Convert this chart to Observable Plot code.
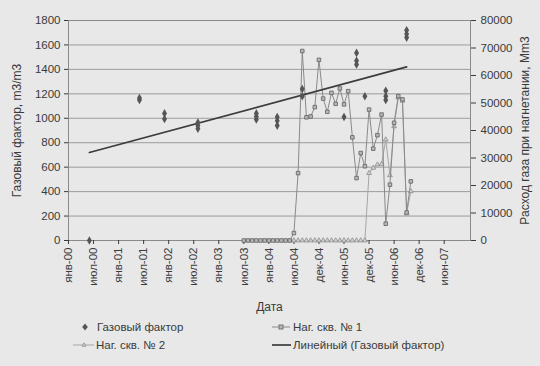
<!DOCTYPE html>
<html><head><meta charset="utf-8">
<script src="https://cdn.jsdelivr.net/npm/d3@7"></script>
<script src="https://cdn.jsdelivr.net/npm/@observablehq/plot@0.6"></script>
<style>
body{margin:0;background:#e8e8e8;}
#wrap{position:relative;width:540px;height:366px;font-family:"Liberation Sans",Arial,sans-serif;color:#3a3a3a;overflow:hidden;background:#e8e8e8}
#chart{position:absolute;left:0;top:0}
.item{position:absolute;font-size:11.5px;line-height:14px;white-space:nowrap;color:#3a3a3a}
.item svg{position:absolute;left:0;top:0}
.item span{position:absolute;top:0}
</style></head><body>
<div id="wrap"><div id="chart"></div><div id="legend"></div></div>
<script>
// x positions are category (month) indices starting at янв-00 = 0
const tickPos = [0, 6, 12, 18, 24, 30, 36, 42, 48, 54, 60, 66, 72, 78, 84, 90];
const tickLabels = ["янв-00","июл-00","янв-01","июл-01","янв-02","июл-02","янв-03","июл-03","янв-04","июл-04","дек-04","июн-05","дек-05","июн-06","дек-06","июн-07"];
const leftTicks = [0, 200, 400, 600, 800, 1000, 1200, 1400, 1600, 1800];
const rightTicks = [0, 10000, 20000, 30000, 40000, 50000, 60000, 70000, 80000];

// Газовый фактор, m3/m3
const gasMonth  = [5, 17, 17, 23, 23, 31, 31, 31, 45, 45, 45, 50, 50, 50, 56, 56, 66, 69, 69, 69, 71, 76, 76, 76, 81, 81, 81];
const gasFactor = [0, 1165, 1150, 1040, 995, 965, 940, 915, 1040, 1015, 990, 1010, 980, 940, 1240, 1180, 1010, 1535, 1470, 1440, 1180, 1225, 1180, 1150, 1720, 1690, 1660];

// Наг. скв. № 1, Mm3 (monthly from index 42)
const well1Start = 42;
const well1 = [0,0,0,0,0,0,0,0,0,0,0,0,
  2700, 24500, 68900, 44800, 45100, 48500, 65700, 51600, 46800, 53700, 49700, 55300, 49500, 54300,
  37500, 22700, 31800, 27000, 47600, 33400, 38300, 45800, 6100, 20300, 42800, 52500, 51300, 10200, 21500];

// Наг. скв. № 2, Mm3 (monthly from index 54)
const well2Start = 54;
const well2 = [0,0,0,0,0,0,0,0,0,0,0,0,0,0,0,0,0,0,
  24500, 26400, 27600, 27800, 36700, 23700, 41500, 52000, 50800, 9800, 17900];

// Линейный (Газовый фактор) — ends
const trendMonth = [5, 81];
const trendValue = [720, 1420];

const K = 1800 / 80000; // right axis -> left axis units
const gas = gasMonth.map((m, i) => ({m, v: gasFactor[i]}));
const w1 = well1.map((v, i) => ({m: well1Start + i, v: v * K}));
const w2 = well2.map((v, i) => ({m: well2Start + i, v: v * K}));
const trend = trendMonth.map((m, i) => ({m, v: trendValue[i]}));

const chart = Plot.plot({
  width: 540, height: 318,
  marginLeft: 68, marginRight: 70, marginTop: 20, marginBottom: 78,
  style: {background: "transparent", fontFamily: "'Liberation Sans', Arial, sans-serif", fontSize: "11px", color: "#3a3a3a"},
  x: {domain: [0, 96.3]},
  y: {domain: [0, 1800]},
  marks: [
    Plot.gridY(leftTicks, {stroke: "#9c9c9c", strokeOpacity: 1}),
    Plot.frame({stroke: "#8a8a8a"}),
    Plot.axisX(tickPos, {tickFormat: d => tickLabels[tickPos.indexOf(d)], tickRotate: -90, tickSize: 4, tickPadding: 3,
      label: "Дата", labelAnchor: "center", labelOffset: 70, labelArrow: "none", fontSize: 11.5}),
    Plot.axisY(leftTicks, {anchor: "left", tickSize: 4, tickPadding: 4, tickFormat: d => String(d), label: "Газовый фактор, m3/m3",
      labelAnchor: "center", labelOffset: 56, labelArrow: "none", fontSize: 11.5}),
    Plot.axisY(rightTicks.map(t => t * K), {anchor: "right", tickFormat: d => String(Math.round(d / K)), tickSize: 5, tickPadding: 5,
      label: "Расход газа при нагнетании, Мm3", labelAnchor: "center", labelOffset: 58, labelArrow: "none", fontSize: 11.5}),
    Plot.line(w2, {x: "m", y: "v", stroke: "#a6a6a6", strokeWidth: 1}),
    Plot.dot(w2, {x: "m", y: "v", symbol: "triangle", stroke: "#8e8e8e", fill: "#d0d0d0", r: 1.8, strokeWidth: 0.8}),
    Plot.line(w1, {x: "m", y: "v", stroke: "#8a8a8a", strokeWidth: 1}),
    Plot.dot(w1, {x: "m", y: "v", symbol: "square", stroke: "#6a6a6a", fill: "#b8b8b8", r: 2, strokeWidth: 0.9}),
    Plot.line(trend, {x: "m", y: "v", stroke: "#3c3c3c", strokeWidth: 1.7}),
    Plot.dot(gas, {x: "m", y: "v", symbol: "diamond", fill: "#555", r: 2.6})
  ]
});
document.getElementById("chart").appendChild(chart);
// axis titles slightly larger than tick labels
chart.querySelectorAll("g[aria-label='y-axis label'] text, g[aria-label='x-axis label'] text").forEach(t => t.setAttribute("font-size", "12"));

// legend
const legendItems = [
  {label: "Газовый фактор", kind: "diamond", x: 79, y: 320},
  {label: "Наг. скв. № 1", kind: "square", x: 272, y: 320},
  {label: "Наг. скв. № 2", kind: "triangle", x: 73, y: 338},
  {label: "Линейный (Газовый фактор)", kind: "trend", x: 272, y: 338}
];
const legend = document.getElementById("legend");
for (const it of legendItems) {
  const d = document.createElement("div");
  d.className = "item";
  d.style.left = it.x + "px";
  d.style.top = it.y + "px";
  let svg = "", tx = 21;
  if (it.kind === "diamond") {
    svg = '<svg width="14" height="14"><path d="M6,3.5L8.8,7L6,10.5L3.2,7Z" fill="#555"/></svg>'; tx = 18;
  } else if (it.kind === "square") {
    svg = '<svg width="20" height="14"><line x1="0" y1="7" x2="18" y2="7" stroke="#8a8a8a"/><rect x="7" y="5" width="4" height="4" fill="#b8b8b8" stroke="#6a6a6a" stroke-width="0.9"/></svg>';
  } else if (it.kind === "triangle") {
    svg = '<svg width="22" height="14"><line x1="0" y1="7" x2="21" y2="7" stroke="#a6a6a6"/><path d="M11,4.8L13,8.3L9,8.3Z" fill="#d0d0d0" stroke="#8e8e8e" stroke-width="0.8"/></svg>'; tx = 23;
  } else {
    svg = '<svg width="20" height="14"><line x1="0" y1="7" x2="19" y2="7" stroke="#3c3c3c" stroke-width="1.7"/></svg>';
  }
  d.innerHTML = svg + '<span style="left:' + tx + 'px">' + it.label + '</span>';
  legend.appendChild(d);
}
</script>
</body></html>
